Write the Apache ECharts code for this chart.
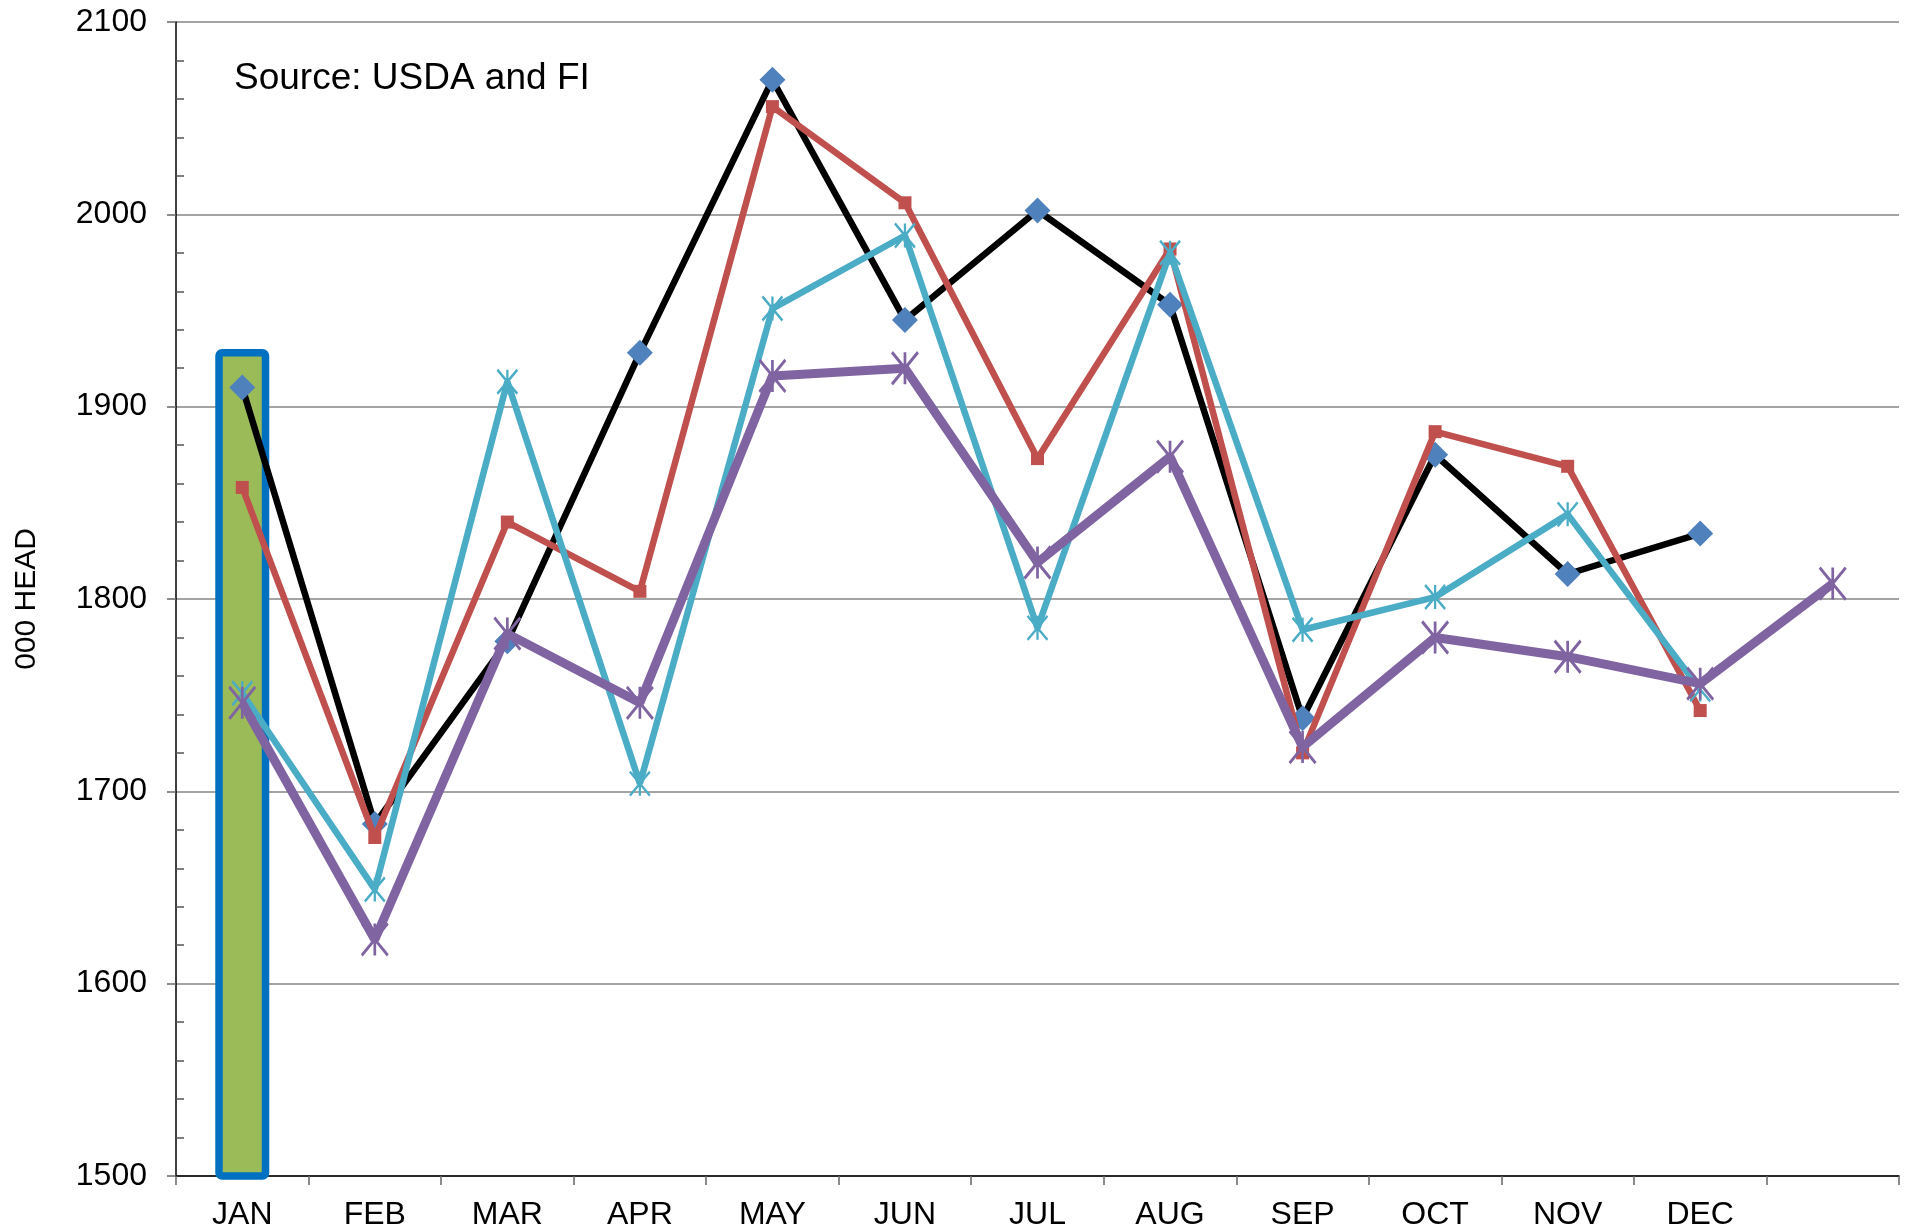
<!DOCTYPE html>
<html>
<head>
<meta charset="utf-8">
<script src="https://cdn.jsdelivr.net/npm/echarts@6/dist/echarts.min.js"></script>
<style>
html,body{margin:0;padding:0;background:#fff;}
#chart{width:1911px;height:1231px;}
</style>
</head>
<body>
<div id="chart"></div>
<script>
const categories = ['JAN','FEB','MAR','APR','MAY','JUN','JUL','AUG','SEP','OCT','NOV','DEC',''];
const yTicks = { min: 1500, max: 2100, interval: 100 };
const barValues    = [1930, null, null, null, null, null, null, null, null, null, null, null, null];
const blackSeries  = [1910, 1683, 1778, 1928, 2070, 1945, 2002, 1953, 1738, 1875, 1813, 1834, null];
const redSeries    = [1858, 1676, 1840, 1804, 2056, 2006, 1873, 1982, 1720, 1887, 1869, 1742, null];
const cyanSeries   = [1751, 1649, 1913, 1704, 1951, 1989, 1785, 1980, 1784, 1801, 1844, 1753, null];
const purpleSeries = [1746, 1623, 1782, 1746, 1916, 1920, 1819, 1874, 1723, 1780, 1770, 1756, 1808];
const sourceText = 'Source: USDA and FI';
const yAxisTitle = '000 HEAD';

const FONT = '"Liberation Sans", Arial, sans-serif';
const starPath = 'path://M0,0L20,26M20,0L0,26M10,0L10,26';

const chart = echarts.init(document.getElementById('chart'), null, {renderer: 'canvas'});
chart.setOption({
  animation: false,
  backgroundColor: '#ffffff',
  grid: { left: 176, right: 12, top: 22, bottom: 54, containLabel: false },
  graphic: [{
    type: 'text', left: 234, top: 60,
    style: { text: sourceText, font: '37px ' + FONT, fill: '#000' }
  }],
  xAxis: {
    type: 'category', data: categories, boundaryGap: true,
    axisLine: { show: true, lineStyle: { color: '#000', width: 1.5 } },
    axisTick: { show: true, interval: 0, length: 9, lineStyle: { color: '#666', width: 1.5 } },
    axisLabel: { interval: 0, margin: 23, fontSize: 32, fontFamily: FONT, color: '#000' },
    splitLine: { show: false }
  },
  yAxis: [{
    type: 'value', min: yTicks.min, max: yTicks.max, interval: yTicks.interval,
    name: yAxisTitle, nameLocation: 'middle', nameRotate: 90, nameGap: 134,
    nameTextStyle: { fontSize: 30, fontFamily: FONT, color: '#000' },
    axisLine: { show: true, lineStyle: { color: '#000', width: 1.5 } },
    axisTick: { show: true, length: 9, lineStyle: { color: '#666', width: 1.5 } },
    axisLabel: { margin: 29, fontSize: 32, fontFamily: FONT, color: '#000',
                 formatter: function (v) { return String(v); } },
    splitLine: { show: true, lineStyle: { color: '#868686', width: 1.5 } }
  }, {
    type: 'value', position: 'left', min: yTicks.min, max: yTicks.max, interval: yTicks.interval,
    axisLine: { show: false },
    axisTick: { show: false, inside: true },
    minorTick: { show: true, splitNumber: 5, length: 8, lineStyle: { color: '#555', width: 1.5 } },
    axisLabel: { show: false },
    splitLine: { show: false }
  }],
  series: [
    {
      type: 'bar', data: barValues, yAxisIndex: 0, barWidth: 54,
      itemStyle: { color: '#9BBB59', borderColor: '#0070C0', borderWidth: 7.5, borderRadius: 3 },
      z: 1
    },
    {
      type: 'line', data: blackSeries, yAxisIndex: 0,
      symbol: 'diamond', symbolSize: 26, showSymbol: true,
      lineStyle: { color: '#000000', width: 6.5 },
      itemStyle: { color: '#4F81BD' }, z: 2
    },
    {
      type: 'line', data: redSeries, yAxisIndex: 0,
      symbol: 'rect', symbolSize: 13,
      lineStyle: { color: '#C0504D', width: 6.5 },
      itemStyle: { color: '#C0504D' }, z: 3
    },
    {
      type: 'line', data: cyanSeries, yAxisIndex: 0,
      symbol: starPath, symbolSize: [20, 24], symbolKeepAspect: false,
      lineStyle: { color: '#4BACC6', width: 6.5 },
      itemStyle: { color: 'rgba(0,0,0,0)', borderColor: '#4BACC6', borderWidth: 2.5 }, z: 4
    },
    {
      type: 'line', data: purpleSeries, yAxisIndex: 0,
      symbol: starPath, symbolSize: [26, 32], symbolKeepAspect: false,
      lineStyle: { color: '#8064A2', width: 9 },
      itemStyle: { color: 'rgba(0,0,0,0)', borderColor: '#8064A2', borderWidth: 3 }, z: 5
    }
  ]
});
</script>
</body>
</html>
